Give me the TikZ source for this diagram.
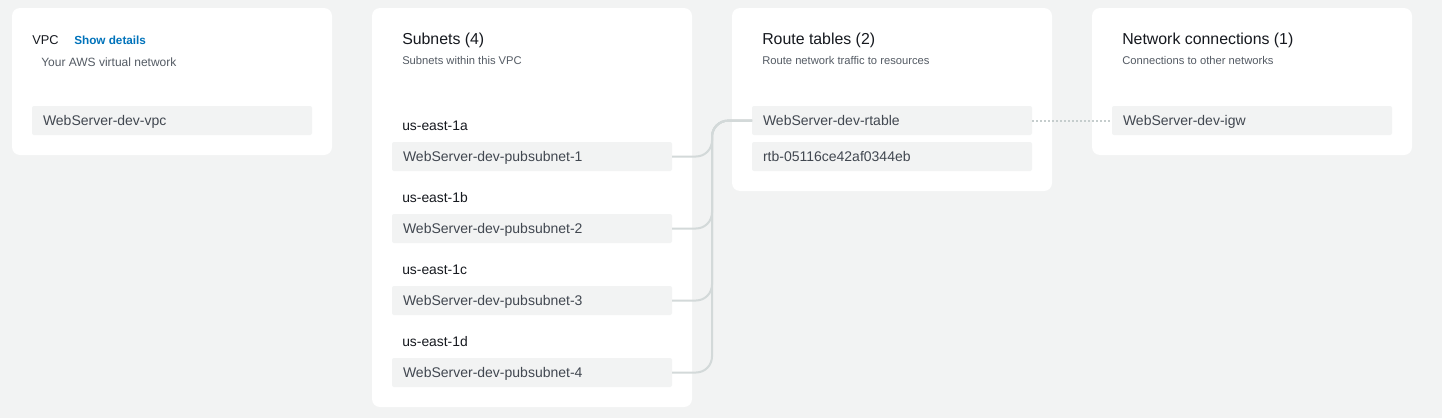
\documentclass[tikz,border=0pt]{standalone}
\usepackage{fontspec}
\setmainfont{Liberation Sans}
\usetikzlibrary{positioning}
\definecolor{pagebg}{HTML}{F2F3F3}
\definecolor{itembg}{HTML}{F2F3F3}
\definecolor{ink}{HTML}{16191F}
\definecolor{subink}{HTML}{545B64}
\definecolor{itemink}{HTML}{414750}
\definecolor{linkgray}{HTML}{D3D9D9}
\definecolor{dotgray}{HTML}{C5CDCD}
\definecolor{awsblue}{HTML}{0073BB}

\begin{document}
\begin{tikzpicture}[
  x=0.75pt, y=-0.75pt,
  card/.style={fill=white, rounded corners=6pt},
  title/.style={anchor=base west, inner sep=0, text=ink, font=\fontsize{11.9}{14}\selectfont},
  sub/.style={anchor=base west, inner sep=0, text=subink, font=\fontsize{8.4}{10}\selectfont},
  zone/.style={anchor=base west, inner sep=0, text=ink, font=\fontsize{10.4}{12}\selectfont},
  item/.style={anchor=north west, fill=itembg, rounded corners=1.5pt, minimum width=210pt, minimum height=21.75pt, inner xsep=8.25pt, inner ysep=0pt, outer sep=0pt, text width=193.5pt, align=left, text height=10pt, text depth=2.5pt, text=itemink, font=\fontsize{10.5}{12}\selectfont},
  link/.style={draw=linkgray, line width=1.5pt, rounded corners=12pt},
  dots/.style={draw=dotgray, line width=1.5pt, dash pattern=on 1.5pt off 1.5pt}
]
% page and cards
\fill[pagebg] (0,0) rectangle (1442,418);
\fill[card] (12,8) rectangle (332,155);
\fill[card] (372,8) rectangle (692,407);
\fill[card] (732,8) rectangle (1052,191);
\fill[card] (1092,8) rectangle (1412,155);

% VPC
\node[title, font=\fontsize{9.6}{12}\selectfont] (vpct) at (32,44.5) {VPC};
\node[sub, text=awsblue, font=\bfseries\fontsize{8.8}{11}\selectfont] (details) at (74,44.5) {Show details};
\node[sub, font=\fontsize{9}{11}\selectfont] (vpcs) at (41,66) {Your AWS virtual network};
\node[item] (vpc) at (32,106) {WebServer-dev-vpc};

% subnets
\node[title] (subt) at (402,44.5) {Subnets (4)};
\node[sub] (subs) at (402,64.7) {Subnets within this VPC};
\node[zone] (za) at (402,130.7) {us-east-1a};
\node[item] (sub1) at (392,142) {WebServer-dev-pubsubnet-1};
\node[zone] (zb) at (402,202.7) {us-east-1b};
\node[item, below=32.25pt of sub1.south west, anchor=north west] (sub2) {WebServer-dev-pubsubnet-2};
\node[zone] (zc) at (402,274.7) {us-east-1c};
\node[item, below=32.25pt of sub2.south west, anchor=north west] (sub3) {WebServer-dev-pubsubnet-3};
\node[zone] (zd) at (402,346.7) {us-east-1d};
\node[item, below=32.25pt of sub3.south west, anchor=north west] (sub4) {WebServer-dev-pubsubnet-4};

% route tables
\node[title] (rtt) at (762,44.5) {Route tables (2)};
\node[sub] (rts) at (762,64.7) {Route network traffic to resources};
\node[item] (rt1) at (752,106) {WebServer-dev-rtable};
\node[item, below=5.25pt of rt1.south west, anchor=north west] (rt2) {rtb-05116ce42af0344eb};

% network connections
\node[title] (nct) at (1122,44.5) {Network connections (1)};
\node[sub] (ncs) at (1122,64.7) {Connections to other networks};
\node[item] (igw) at (1112,106) {WebServer-dev-igw};

% connectors
\coordinate (bus) at (712,120.75);
\draw[link] (sub1.east) -| (bus) -- (rt1.west);
\draw[link] (sub2.east) -| (bus) -- (rt1.west);
\draw[link] (sub3.east) -| (bus) -- (rt1.west);
\draw[link] (sub4.east) -| (bus) -- (rt1.west);
\draw[dots] (rt1.east) -- (igw.west);
\end{tikzpicture}
\end{document}
